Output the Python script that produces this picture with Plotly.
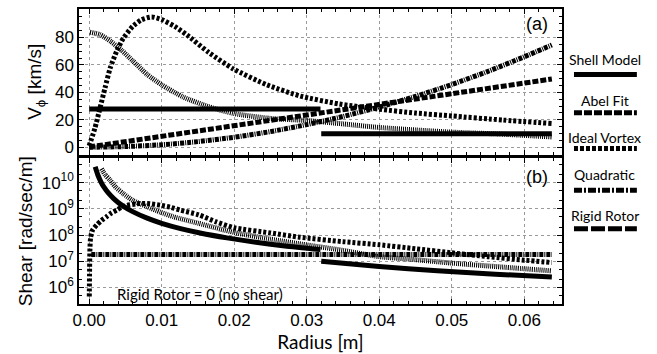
import plotly.graph_objects as go

# ---------------- data ----------------
# Top panel: azimuthal velocity [km/s] vs radius [m]
shell_r1 = [0.0000, 0.0319]
shell_v1 = [27.9, 27.9]
shell_r2 = [0.0320, 0.0638]
shell_v2 = [9.8, 9.8]

abel_r = [0.0001, 0.0015, 0.003, 0.0045, 0.006, 0.008, 0.010, 0.013, 0.0165, 0.020,
          0.025, 0.030, 0.035, 0.040, 0.045, 0.050, 0.0567, 0.0638]
abel_v = [83.8, 82.0, 77.0, 70.5, 63.0, 53.0, 45.5, 36.5, 29.5, 24.5,
          21.0, 19.5, 17.0, 14.4, 12.6, 11.0, 9.6, 7.5]

vortex_r = [0.0000, 0.0008, 0.0015, 0.0022, 0.0029, 0.0038, 0.0047, 0.0060, 0.0072, 0.0086,
            0.0100, 0.0118, 0.0135, 0.0165, 0.0199, 0.0245, 0.0291, 0.0345, 0.0400, 0.0450,
            0.0500, 0.0570, 0.0638]
vortex_v = [1.0, 14.0, 28.6, 43.5, 57.7, 70.0, 79.3, 88.0, 92.8, 94.9,
            93.0, 88.0, 81.7, 69.0, 57.0, 45.5, 37.3, 31.5, 27.7, 24.9,
            22.8, 19.8, 17.3]

quad_r = [0.000, 0.005, 0.010, 0.015, 0.020, 0.025, 0.030, 0.035, 0.040, 0.045,
          0.050, 0.055, 0.060, 0.0638]
quad_v = [0.0, 0.5, 1.8, 4.1, 7.3, 11.4, 16.5, 22.4, 29.3, 37.0,
          45.7, 55.3, 65.9, 74.5]

rigid_r = [0.0000, 0.0638]
rigid_v = [0.2, 49.7]

# Bottom panel: shear [rad/sec/m] vs radius [m]
shell_sr1 = [0.00083, 0.0012, 0.0016, 0.002, 0.0027, 0.00335, 0.0040, 0.0047, 0.006, 0.008,
             0.010, 0.0126, 0.0153, 0.019, 0.023, 0.027, 0.0319]
shell_s1 = [4.0e10, 1.95e10, 1.1e10, 7.0e9, 3.85e9, 2.5e9, 1.75e9, 1.27e9, 7.8e8, 4.4e8,
            2.8e8, 1.76e8, 1.2e8, 7.8e7, 5.3e7, 3.85e7, 2.8e7]
shell_sr2 = [0.0320, 0.040, 0.048, 0.056, 0.0638]
shell_s2 = [1.0e7, 6.3e6, 4.35e6, 3.2e6, 2.5e6]

abel_sr = [0.0017, 0.0022, 0.0029, 0.0037, 0.0047, 0.006, 0.008, 0.0098, 0.0116, 0.0151,
           0.020, 0.025, 0.030, 0.035, 0.040, 0.045, 0.050, 0.057, 0.0638]
abel_s = [3.4e10, 2.0e10, 1.23e10, 6.5e9, 3.8e9, 2.1e9, 1.2e9, 7.5e8, 5.0e8, 2.8e8,
          1.25e8, 7.0e7, 4.2e7, 2.6e7, 1.5e7, 1.15e7, 8.5e6, 6.0e6, 4.3e6]

vortex_sr = [0.00002, 0.00005, 0.0001, 0.0002, 0.0005, 0.00106, 0.0017, 0.0024, 0.0031, 0.0038,
             0.0045, 0.0052, 0.0065, 0.0080, 0.0098, 0.0112, 0.0126, 0.0151, 0.0175, 0.020,
             0.025, 0.029, 0.035, 0.040, 0.045, 0.050, 0.055, 0.060, 0.0638]
vortex_s = [4.5e5, 3.0e6, 2.5e7, 8.0e7, 1.6e8, 2.45e8, 3.6e8, 5.0e8, 7.0e8, 8.9e8,
            1.15e9, 1.35e9, 1.55e9, 1.6e9, 1.38e9, 1.15e9, 8.9e8, 5.9e8, 3.2e8, 1.9e8,
            1.2e8, 8.3e7, 5.6e7, 4.25e7, 3.0e7, 2.1e7, 1.5e7, 1.1e7, 8.9e6]

quad_sr = [0.0003, 0.0638]
quad_s = [1.82e7, 1.82e7]

# axis ticks
x_ticks = [0.00, 0.01, 0.02, 0.03, 0.04, 0.05, 0.06]
x_ticktext = ["0.00", "0.01", "0.02", "0.03", "0.04", "0.05", "0.06"]
v_ticks = [0, 20, 40, 60, 80]
s_ticks = [1e6, 1e7, 1e8, 1e9, 1e10]
s_ticktext = ["10<sup>6</sup>", "10<sup>7</sup>", "10<sup>8</sup>", "10<sup>9</sup>", "10<sup>10</sup>"]

legend_names = ["Shell Model", "Abel Fit", "Ideal Vortex", "Quadratic", "Rigid Rotor"]

# ---------------- styles ----------------
W = 5
style = {
    "shell": dict(color="black", width=W, dash="solid"),
    "abel": dict(color="black", width=W, dash="1px,1px"),
    "vortex": dict(color="black", width=W, dash="3px,2px"),
    "quad": dict(color="black", width=W, dash="4px,1px,1px,1px"),
    "rigid": dict(color="black", width=W, dash="6px,2px"),
}
legend_dash = ["solid", "8px,2px", "4px,2px", "8px,2px,2px,2px", "14px,3px"]

fig = go.Figure()

def add(x, y, st, xa="x", ya="y"):
    fig.add_trace(go.Scatter(x=x, y=y, mode="lines", line=dict(**st, shape="spline", smoothing=0.6),
                             xaxis=xa, yaxis=ya, showlegend=False, hoverinfo="skip"))

# top panel
add(quad_r, quad_v, style["quad"])
add(rigid_r, rigid_v, style["rigid"])
add(abel_r, abel_v, style["abel"])
add(vortex_r, vortex_v, style["vortex"])
add(shell_r1, shell_v1, style["shell"])
add(shell_r2, shell_v2, style["shell"])

# bottom panel
add(quad_sr, quad_s, style["quad"], "x2", "y2")
add(abel_sr, abel_s, style["abel"], "x2", "y2")
add(vortex_sr, vortex_s, style["vortex"], "x2", "y2")
add(shell_sr1, shell_s1, style["shell"], "x2", "y2")
add(shell_sr2, shell_s2, style["shell"], "x2", "y2")

tick_font = dict(family="Liberation Sans Narrow, Liberation Sans, Arial", size=17, color="black")
title_font = dict(family="Liberation Sans, Arial", size=19, color="black")
cal_font = dict(family="Lato, Open Sans", size=15, color="black")
leg_font = dict(family="Lato, Open Sans", size=14, color="black")

common_axis = dict(showline=True, linecolor="black", linewidth=1.5, mirror="ticks",
                   ticks="inside", ticklen=5, tickwidth=1, tickcolor="black",
                   showgrid=True, gridcolor="#9a9a9a", griddash="dot", gridwidth=1,
                   zeroline=False, tickfont=tick_font)

xr = [-0.0014, 0.0652]
fig.update_layout(
    width=657, height=354,
    margin=dict(l=79, r=95, t=7, b=49),
    plot_bgcolor="white", paper_bgcolor="white",
    xaxis=dict(**common_axis, domain=[0, 1], range=xr, anchor="y", tickvals=x_ticks,
               showticklabels=False, matches="x2",
               minor=dict(dtick=0.002, tick0=0, ticks="inside", ticklen=3, tickcolor="black", showgrid=False)),
    yaxis=dict(**common_axis, domain=[0.5067, 1.0], range=[-5.3, 100.7], anchor="x", tickvals=v_ticks,
               title=dict(text="V<sub>ϕ</sub> [km/s]", font=title_font, standoff=8),
               minor=dict(dtick=5, tick0=0, ticks="inside", ticklen=3, tickcolor="black", showgrid=False)),
    xaxis2=dict(**common_axis, domain=[0, 1], range=xr, anchor="y2", tickvals=x_ticks, ticktext=x_ticktext,
                title=dict(text="Radius [m]", font=dict(family="Lato, Open Sans", size=19, color="black"), standoff=4),
                minor=dict(dtick=0.002, tick0=0, ticks="inside", ticklen=3, tickcolor="black", showgrid=False)),
    yaxis2=dict(**common_axis, domain=[0, 0.4933], type="log", range=[5.37, 10.92], anchor="x2",
                tickvals=s_ticks, ticktext=s_ticktext,
                title=dict(text="Shear [rad/sec/m]", font=title_font, standoff=4),
                minor=dict(ticks="inside", ticklen=3, tickcolor="black", showgrid=False)),
)

# panel labels
fig.add_annotation(x=0.0618, y=89.9, xref="x", yref="y", text="(a)", showarrow=False,
                   font=dict(family="Liberation Sans, Arial", size=18, color="black"))
fig.add_annotation(x=0.0618, y=10.21, xref="x2", yref="y2", text="(b)", showarrow=False,
                   font=dict(family="Liberation Sans, Arial", size=18, color="black"))
fig.add_annotation(x=0.0153, y=5.75, xref="x2", yref="y2", text="Rigid Rotor = 0 (no shear)",
                   showarrow=False, font=cal_font)

# custom legend on the right
text_y = [0.829, 0.690, 0.563, 0.439, 0.300]
samp_y = [0.778, 0.648, 0.527, 0.386, 0.255]
for name, ty, sy, dsh in zip(legend_names, text_y, samp_y, legend_dash):
    fig.add_annotation(x=1.089, y=ty, xref="paper", yref="paper", text=name, showarrow=False,
                       xanchor="center", yanchor="middle", font=leg_font)
    fig.add_shape(type="line", xref="paper", yref="paper", x0=1.0248, x1=1.155, y0=sy, y1=sy,
                  line=dict(color="black", width=W, dash=dsh))

fig.write_html("out.html")
